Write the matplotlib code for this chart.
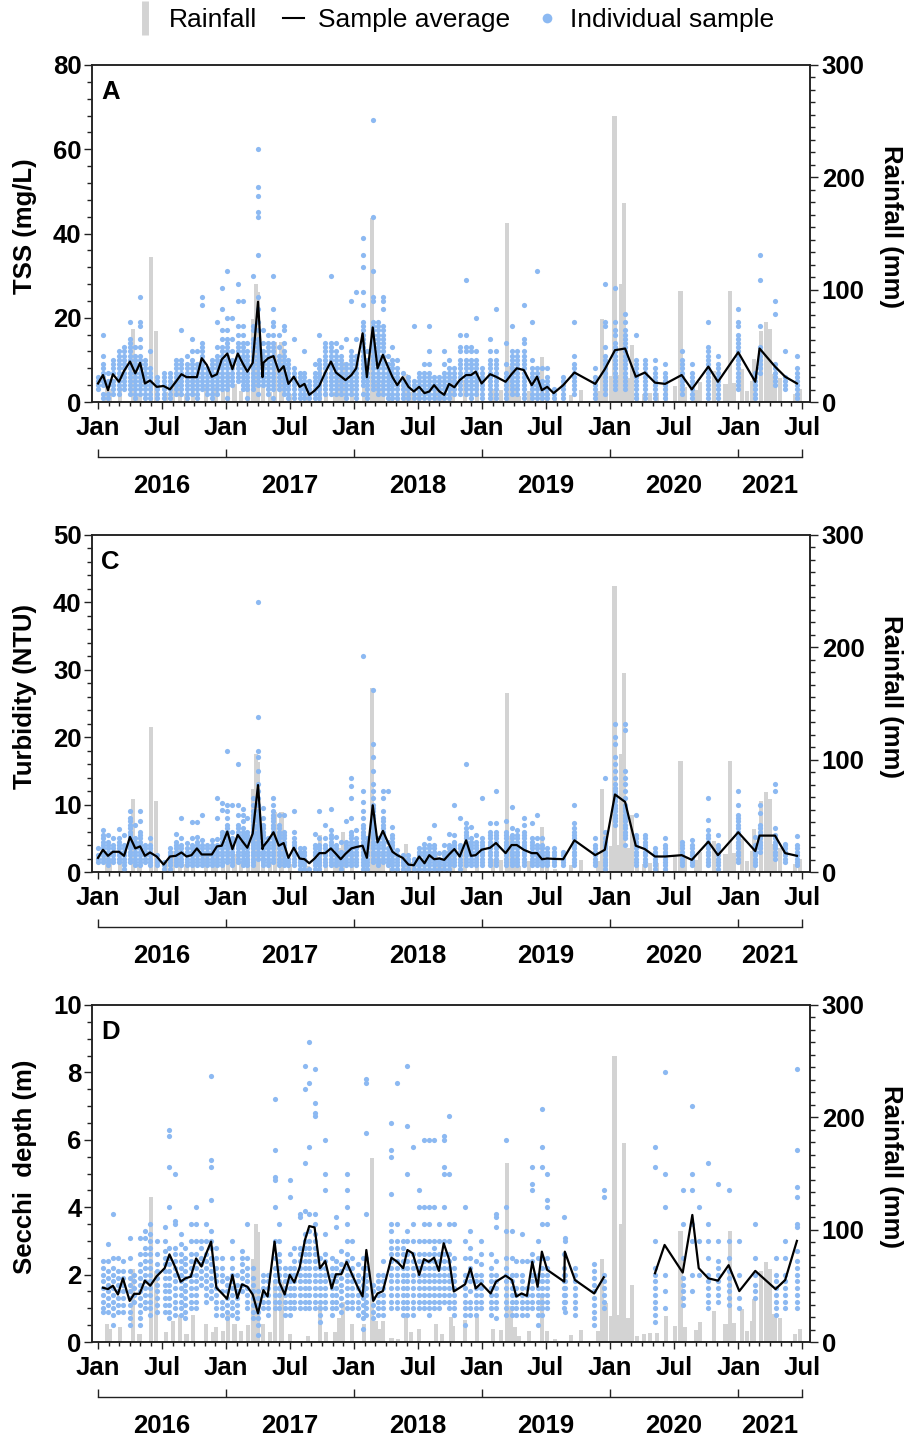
import numpy as np
import pandas as pd
import matplotlib
matplotlib.use("Agg")
import matplotlib.pyplot as plt
import matplotlib.dates as mdates
from matplotlib.ticker import MultipleLocator, AutoMinorLocator
from matplotlib.lines import Line2D

plt.rcParams['font.family'] = ['Liberation Sans', 'DejaVu Sans']
plt.rcParams['font.weight'] = 'bold'

# ---------------- data ----------------
# time of each observation as months since 1 Jan 2016
rain_month = [0.84, 1.1, 2.06, 3.28, 3.9, 4.97, 5.47, 6.4, 7.0, 7.66, 8.3, 8.93, 10.15, 10.78, 11.09,
              11.7, 12.18, 12.8, 13.4, 14.06, 14.5, 14.78, 15.0, 15.5, 16.1, 16.6, 17.2, 18.0, 19.7,
              20.8, 21.4, 22.2, 22.56, 22.96, 23.8, 24.9, 25.65, 26.05, 26.4, 26.7, 27.5, 28.1, 28.9,
              29.36, 30.05, 31.7, 32.24, 33.05, 33.3, 34.4, 35.5, 37.0, 37.74, 38.33, 38.7, 39.08,
              39.46, 40.4, 41.64, 42.05, 42.86, 44.3, 45.24, 46.9, 47.24, 47.6, 48.08, 48.4, 48.77,
              49.0, 49.27, 49.64, 50.08, 50.55, 51.17, 51.7, 52.4, 53.2, 54.1, 54.6, 55.04, 56.1,
              56.45, 57.7, 58.8, 59.2, 59.6, 60.35, 60.8, 61.26, 61.5, 62.1, 62.57, 63.0, 63.4, 63.9,
              65.3, 65.8]
rain_mm = [16, 12, 13, 65, 7, 129, 63, 9, 19, 24, 7, 24, 16, 9, 13,
           10, 27, 16, 10, 15, 74, 105, 98, 16, 9, 53, 53, 7, 5,
           33, 9, 9, 21, 36, 16, 16, 164, 19, 12, 19, 4, 3, 25,
           9, 12, 16, 7, 22, 14, 20, 22, 12, 11, 159, 32, 13,
           5, 10, 40, 10, 3, 6, 11, 10, 74, 35, 23, 255, 24,
           105, 177, 21, 51, 5, 7, 8, 8, 23, 14, 99, 13, 11,
           18, 28, 16, 99, 17, 29, 10, 19, 38, 63, 71, 65, 25, 21,
           7, 12]

# sampling times for TSS and turbidity
ac_month = [0.0, 0.47, 0.94, 1.4, 1.97, 2.45, 3.0, 3.5, 3.95, 4.4,
            4.88, 5.5, 6.15, 6.75, 7.3, 7.82, 8.3, 8.77, 9.27, 9.72,
            10.2, 10.67, 11.15, 11.6, 12.12, 12.6, 13.1, 13.56, 14.0, 14.5,
            15.0, 15.42, 15.5, 15.95, 16.45, 16.95, 17.4, 17.85, 18.35, 18.9,
            19.35, 19.8, 20.3, 20.75, 21.3, 21.83, 22.3, 22.75, 23.2, 23.75,
            24.2, 24.8, 25.2, 25.75, 26.2, 26.7, 27.15, 27.6, 28.05, 28.55,
            29.1, 29.6, 30.1, 30.6, 31.05, 31.5, 32.0, 32.45, 32.9, 33.4,
            33.9, 34.5, 34.96, 35.4, 35.95, 36.75, 37.3, 38.2, 38.76, 39.25,
            39.9, 40.65, 41.15, 41.6, 42.1, 42.7, 43.6, 44.65, 46.6, 47.5,
            48.45, 49.4, 50.4, 51.25, 52.2, 53.15, 54.7, 55.65, 57.2, 58.1,
            60.0, 61.6, 62.0, 63.45, 64.4, 65.5]

tss_avg = [4.4, 6.4, 2.8, 6.6, 4.8, 7.4, 9.6, 6.8, 9.3, 4.4,
           5.1, 3.6, 3.8, 3.0, 4.8, 6.6, 5.9, 5.9, 5.9, 10.4,
           8.8, 6.0, 6.6, 10.1, 11.5, 7.8, 11.5, 9.2, 7.2, 9.3,
           23.8, 5.9, 9.3, 10.4, 10.9, 7.2, 8.5, 4.3, 6.0, 3.6,
           4.3, 1.7, 2.7, 3.9, 7.0, 9.6, 7.0, 6.1, 5.2, 6.4,
           8.0, 16.3, 5.9, 17.7, 8.0, 11.2, 8.5, 5.9, 4.0, 5.9,
           3.6, 2.5, 3.6, 2.1, 2.5, 4.0, 2.5, 1.7, 4.3, 3.5,
           5.2, 6.4, 6.4, 7.2, 4.4, 6.6, 6.0, 4.8, 6.6, 8.0,
           7.6, 4.0, 6.0, 2.8, 3.6, 2.1, 4.0, 7.0, 4.3, 7.8,
           12.3, 12.7, 6.0, 7.0, 4.6, 4.3, 6.4, 3.0, 8.4, 4.8,
           11.8, 4.8, 12.7, 8.4, 6.0, 4.4]

tss_samples = [
    [3, 4, 5, 6], [1, 2, 4, 5, 6, 7, 8, 9, 11, 16], [1, 2, 4, 5, 7], [2, 3, 4, 5, 7, 8, 9, 10],
    [2, 3, 4, 5, 6, 7, 8, 9, 10, 11, 12], [3, 4, 5, 6, 7, 8, 9, 10, 11, 12, 13],
    [2, 3, 4, 5, 6, 7, 8, 9, 10, 11, 12, 13, 14, 15, 19], [1, 2, 3, 4, 5, 6, 7, 8, 9, 10, 11, 13],
    [2, 3, 4, 5, 6, 7, 8, 9, 10, 11, 13, 15, 18, 19, 25], [1, 2, 3, 4, 5, 6, 7, 8, 9, 10],
    # 11-20
    [1, 2, 3, 4, 5, 6, 7, 8, 12], [1, 2, 3, 4, 5, 6], [1, 2, 3, 4, 5, 6, 7], [1, 2, 3, 4, 5, 6, 7],
    [2, 3, 4, 5, 6, 7, 8, 9, 10], [2, 3, 4, 5, 6, 7, 8, 9, 10, 17], [1, 2, 3, 4, 5, 6, 7, 8, 9, 11],
    [2, 3, 4, 5, 6, 7, 8, 9, 10, 12, 15], [1, 2, 3, 4, 5, 6, 7, 8, 9, 12],
    [3, 4, 5, 6, 7, 8, 9, 10, 11, 12, 13, 14, 23, 25],
    # 21-30
    [2, 3, 4, 5, 6, 7, 8], [1, 2, 3, 4, 5, 6, 7, 8, 9, 10], [2, 3, 4, 5, 6, 7, 8, 9, 10, 11, 13, 19],
    [3, 4, 5, 6, 7, 8, 9, 10, 11, 12, 13, 15, 17, 22, 27],
    [1, 3, 4, 5, 6, 7, 8, 9, 10, 11, 12, 13, 14, 15, 17, 20, 31], [4, 5, 6, 7, 8, 9, 10, 12, 15, 20],
    [5, 6, 7, 8, 9, 10, 11, 12, 13, 14, 16, 18, 24, 28],
    [3, 4, 5, 6, 7, 8, 9, 10, 11, 12, 13, 14, 16, 18, 24], [1, 3, 4, 5, 6, 7, 8, 9, 10, 11, 12, 14],
    [3, 4, 5, 6, 7, 8, 9, 10, 11, 12, 13, 14, 15, 17, 18, 30],
    # 31-40
    [2, 4, 5, 6, 7, 8, 9, 10, 11, 12, 13, 14, 15, 17, 19, 22, 25, 35, 44, 45, 49, 51, 60],
    [4, 5, 6, 7, 8, 9, 10, 11, 12, 14, 17], [6, 8, 10], [2, 3, 4, 5, 6, 7, 8, 9, 10, 11, 12, 13, 14, 16],
    [1, 3, 4, 5, 6, 7, 8, 9, 10, 11, 12, 13, 14, 16, 18, 19, 22, 30], [3, 4, 5, 6, 7, 8, 9, 10, 11, 13, 16],
    [2, 3, 4, 5, 6, 7, 8, 9, 10, 11, 12, 14, 17, 18], [1, 2, 3, 4, 5, 6, 7, 8, 9, 10],
    [1, 2, 3, 4, 5, 6, 7, 8, 15], [1, 2, 3, 4, 5, 6, 7],
    # 41-50
    [1, 2, 3, 4, 5, 6, 7, 12], [1, 2, 3, 4, 5], [1, 2, 3, 4, 5, 6, 7, 9], [1, 2, 3, 4, 5, 6, 7, 8, 9, 10, 16],
    [2, 3, 4, 5, 6, 7, 8, 9, 10, 11, 12, 13, 14], [2, 3, 4, 5, 6, 7, 8, 9, 10, 11, 12, 13, 14, 30],
    [2, 3, 4, 5, 6, 7, 8, 9, 10, 11, 12, 14], [2, 3, 4, 5, 6, 7, 8, 9, 10, 11, 13],
    [1, 2, 3, 4, 5, 6, 7, 8, 9, 15], [2, 3, 4, 5, 6, 7, 8, 9, 10, 11, 12, 24],
    # 51-60
    [1, 2, 3, 4, 5, 6, 7, 8, 9, 10, 11, 15, 26],
    [2, 4, 5, 6, 7, 8, 9, 10, 11, 12, 13, 14, 15, 16, 17, 18, 19, 23, 26, 32, 35, 39],
    [1, 2, 3, 4, 5, 6, 7, 8, 9, 10, 12],
    [3, 4, 5, 6, 7, 8, 9, 10, 11, 12, 13, 14, 15, 16, 17, 18, 19, 24, 25, 31, 44, 67],
    [2, 3, 4, 5, 6, 7, 8, 9, 10, 11, 12, 13, 14, 15, 16, 17, 18, 19],
    [2, 3, 4, 5, 6, 7, 8, 9, 10, 11, 12, 13, 14, 15, 16, 17, 18, 22, 24, 25],
    [1, 2, 3, 4, 5, 6, 7, 8, 9, 11], [1, 2, 3, 4, 5, 6, 7, 8, 9, 10, 13], [1, 2, 3, 4, 5, 6, 7, 8, 10],
    [1, 2, 3, 4, 5, 7],
    # 61-70
    [1, 2, 3, 4, 5, 6], [1, 2, 3, 4, 5, 18], [1, 2, 3, 4, 5, 6, 7], [1, 2, 3, 4, 5, 6, 7, 9],
    [1, 2, 3, 4, 5, 6, 7, 9, 12, 18], [1, 2, 3, 4, 5, 6], [1, 2, 3, 4, 5, 6], [1, 2, 3, 4, 5, 6, 7, 9, 12],
    [1, 2, 3, 4, 5, 6, 7, 8, 10], [2, 3, 4, 5, 6, 7, 8],
    # 71-80
    [2, 3, 4, 5, 6, 7, 8, 9, 10, 12, 13, 16], [2, 3, 4, 5, 6, 7, 8, 9, 10, 12, 13, 16, 29],
    [1, 2, 3, 4, 5, 6, 7, 8, 9, 10, 12, 13], [2, 3, 4, 5, 6, 7, 8, 9, 10, 12, 20], [1, 2, 3, 4, 5, 6, 7, 8],
    [1, 2, 3, 4, 5, 6, 7, 8, 9, 10, 12, 15], [1, 2, 3, 4, 5, 6, 7, 8, 9, 10, 12, 22],
    [1, 2, 3, 4, 5, 6, 7, 9, 14], [2, 3, 4, 5, 6, 7, 8, 9, 10, 11, 12, 18], [2, 3, 4, 5, 6, 7, 8, 9, 10, 11, 12],
    # 81-90
    [1, 2, 3, 4, 5, 6, 7, 8, 9, 10, 11, 12, 14, 15, 23], [1, 2, 3, 4, 5, 6, 7, 8, 10, 19],
    [1, 2, 3, 4, 5, 6, 7, 8, 31], [1, 2, 3, 4, 5, 8], [1, 2, 3, 4, 5, 6, 8], [1, 2, 3], [1, 2, 3, 4, 5, 6],
    [2, 3, 4, 5, 6, 7, 8, 9, 11, 19], [1, 2, 3, 4, 5, 6, 8], [2, 3, 4, 5, 6, 7, 8, 9, 10, 11, 13, 18, 19, 28],
    # 91-100
    [3, 4, 5, 6, 7, 8, 9, 10, 11, 12, 13, 14, 16, 17, 19, 27],
    [3, 4, 5, 6, 7, 8, 9, 10, 11, 12, 13, 14, 15, 16, 17, 19, 21],
    [1, 2, 3, 4, 5, 6, 7, 8, 9, 10, 16], [1, 2, 3, 4, 5, 6, 7, 8, 9, 10], [1, 2, 3, 4, 5, 6, 7, 8, 10],
    [1, 2, 3, 4, 5, 6, 7, 9], [2, 3, 4, 5, 6, 7, 8, 9, 10, 12], [1, 2, 3, 4, 5, 6, 7, 9],
    [1, 2, 3, 4, 5, 6, 7, 8, 9, 10, 11, 12, 13, 19], [1, 2, 3, 4, 5, 6, 7, 8, 9, 11],
    # 101-106
    [3, 4, 5, 6, 7, 8, 9, 10, 11, 12, 13, 14, 15, 16, 18, 19, 22], [1, 2, 3, 4, 5, 6, 7],
    [7, 8, 9, 10, 11, 12, 13, 18, 29, 35], [4, 5, 6, 7, 8, 9, 21, 24], [3, 4, 5, 6, 12],
    [1, 2, 3, 4, 5, 6, 7, 8, 11],
]

turb_avg = [2.1, 3.3, 2.4, 3.0, 3.0, 2.4, 5.2, 3.5, 3.8, 2.4,
            2.9, 2.3, 1.1, 2.3, 2.4, 2.9, 2.3, 2.5, 3.5, 2.6,
            2.6, 2.6, 3.8, 3.9, 6.0, 3.4, 5.5, 4.5, 3.6, 5.7,
            12.9, 3.4, 3.8, 4.7, 5.9, 3.9, 4.3, 2.1, 3.6, 2.0,
            1.9, 1.3, 2.0, 2.8, 2.8, 3.5, 2.7, 1.9, 2.7, 3.5,
            3.7, 3.9, 2.1, 9.9, 4.4, 6.1, 4.5, 3.0, 2.5, 2.1,
            1.1, 1.0, 2.3, 1.3, 2.5, 1.9, 2.0, 1.8, 2.6, 3.4,
            2.3, 4.7, 2.4, 2.5, 3.3, 3.6, 4.3, 2.8, 4.0, 4.0,
            3.3, 2.8, 2.8, 1.9, 2.0, 1.95, 1.9, 4.7, 2.5, 3.3,
            11.5, 10.4, 3.9, 3.4, 2.3, 2.3, 2.5, 1.8, 4.5, 2.5,
            5.9, 3.1, 5.4, 5.4, 2.8, 2.4]

turb_samples = [
    [1.5, 2, 2.5, 3.5], [1.5, 2, 2.5, 3, 3.5, 4, 4.5, 5, 5.5, 6.2], [1, 1.5, 2, 2.5, 3, 3.5, 4, 4.5, 5.5],
    [1.5, 2, 2.5, 3, 3.5, 4, 5], [1.5, 2, 2.5, 3, 3.5, 4, 4.5, 5, 6.4], [0.5, 1, 1.5, 2, 2.5, 3, 3.5, 4, 5.5],
    [1.5, 2, 2.5, 3, 3.5, 4, 4.5, 5, 5.5, 6, 6.5, 7, 7.5, 8, 9], [1, 1.5, 2, 2.5, 3, 3.5, 4, 4.5, 5, 7],
    [1, 1.5, 2, 2.5, 3, 3.5, 4, 4.5, 5, 5.5, 6, 7.5, 9], [1.5, 2, 2.5, 3, 3.5, 4],
    # 11-20
    [1, 1.5, 2, 2.5, 3, 3.5, 4, 5], [1, 1.5, 2, 2.5], [0.5, 1, 1.5], [0.5, 1, 1.5, 2, 2.5, 3, 3.5],
    [1, 1.5, 2, 2.5, 3, 3.5, 4, 4.5, 5.6], [1, 1.5, 2, 2.5, 3, 3.5, 4, 5, 8], [1, 1.5, 2, 2.5, 3, 3.5, 4.3],
    [1, 1.5, 2, 2.5, 3, 3.5, 4, 5, 7.4], [1, 1.5, 2, 2.5, 3, 3.5, 4, 4.5, 5.2, 7.4],
    [1, 1.5, 2, 2.5, 3, 3.5, 4, 4.7, 8.5],
    # 21-30
    [1, 1.5, 2, 2.5, 3, 3.5, 4], [1, 1.5, 2, 2.5, 3, 3.5, 4, 4.7], [1, 1.5, 2, 2.5, 3, 3.5, 4, 4.9, 8, 11],
    [1, 1.5, 2, 2.5, 3, 3.5, 4, 4.5, 5, 5.5, 6, 9.2, 10.2],
    [1.5, 2, 2.5, 3, 3.5, 4, 4.5, 5, 5.5, 6, 6.5, 7, 8, 9, 10, 18], [1, 1.5, 2, 2.5, 3, 3.5, 4, 4.5, 5, 6, 10],
    [1.5, 2, 2.5, 3, 3.5, 4, 4.5, 5, 5.5, 6, 6.5, 7, 8.5, 10, 16],
    [1, 1.5, 2, 2.5, 3, 3.5, 4, 4.5, 5, 5.5, 6, 6.5, 7.5, 8.5, 9.4], [1, 1.5, 2, 2.5, 3, 3.5, 4, 4.5, 5, 5.5, 6, 8],
    [1, 1.5, 2, 2.5, 3, 3.5, 4, 4.5, 5, 5.5, 6, 6.5, 7, 7.5, 8, 8.5, 9, 10, 11],
    # 31-40
    [2, 2.5, 3, 3.5, 4, 4.5, 5, 5.5, 6, 6.5, 7, 7.5, 8, 8.5, 9, 10, 11, 12, 13, 15, 17, 18, 23, 40],
    [1, 1.5, 2, 2.5, 3, 3.5, 4, 4.5, 5, 5.5, 6, 6.5, 7, 8, 9.5], [2, 3, 4], [1, 1.5, 2, 2.5, 3, 3.5, 4, 4.5, 5],
    [1.5, 2, 2.5, 3, 3.5, 4, 4.5, 5, 5.5, 6, 6.5, 7, 7.5, 8, 8.5, 9, 10, 11],
    [1, 1.5, 2, 2.5, 3, 3.5, 4, 4.5, 5, 5.5, 6, 6.5, 7, 8.5], [1, 1.5, 2, 2.5, 3, 3.5, 4, 4.5, 5, 5.5, 6, 8.5],
    [1, 1.5, 2], [1, 1.5, 2, 2.5, 3, 3.5, 4, 4.5, 5, 6, 9], [0.5, 1, 1.5, 2, 2.5, 3, 3.5],
    # 41-50
    [0.5, 1, 1.5, 2, 2.5, 3, 3.5], [0.5], [0.5, 1, 1.5, 2, 2.5, 3, 3.5, 4, 5.7],
    [0.5, 1, 1.5, 2, 2.5, 3, 3.5, 4, 5, 9], [1, 1.5, 2, 2.5, 3, 3.5, 4, 5, 7],
    [1, 1.5, 2, 2.5, 3, 3.5, 4, 4.5, 5, 5.5, 6.2, 9.4], [1, 1.5, 2, 2.5, 3, 3.5, 4, 5.2],
    [0.5, 1, 1.5, 2, 2.5, 3, 4.5], [1, 1.5, 2, 2.5, 3, 3.5, 4, 4.5, 7.5],
    [1, 1.5, 2, 2.5, 3, 3.5, 4, 4.5, 5, 5.5, 6, 8, 11, 12.8, 14],
    # 51-60
    [1, 1.5, 2, 2.5, 3, 3.5, 4, 4.5, 5, 6.2],
    [0.5, 1, 1.5, 2, 2.5, 3, 3.5, 4, 4.5, 5, 5.5, 6, 6.5, 7, 8, 9, 10.4, 12, 32],
    [0.5, 1, 1.5, 2, 2.5, 3, 3.5, 4, 4.5, 5],
    [1.5, 2, 2.5, 3, 3.5, 4, 4.5, 5, 5.5, 6, 6.5, 7, 7.5, 8, 8.5, 9, 9.5, 10, 11, 12, 13, 15, 17, 19, 27],
    [1, 1.5, 2, 2.5, 3, 3.5, 4, 4.5, 5], [1.5, 2, 2.5, 3, 3.5, 4, 4.5, 5, 5.5, 6, 6.5, 7, 7.5, 8, 9, 11, 12],
    [1, 1.5, 2, 2.5, 3, 3.5, 4.5, 12], [0.5, 1, 1.5, 2, 2.5, 3, 3.5, 4, 4.5, 5, 5.5, 6.7],
    [0.5, 1, 1.5, 2, 2.5, 3.3], [0.5, 1, 1.5, 2, 2.5],
    # 61-70
    [0.5, 1, 1.5, 2, 2.5], [0.5, 1, 1.5, 2], [0.5, 1, 1.5, 2, 2.5, 3, 3.5], [0.5, 1, 1.5, 2, 2.5, 3, 3.5, 4.2],
    [0.5, 1, 1.5, 2, 2.5, 3, 3.5, 4, 5], [0.5, 1, 1.5, 2, 2.5, 3, 3.5, 4, 6.9], [0.5, 1, 1.5, 2, 2.8],
    [0.5, 1, 1.5, 2, 2.5, 3, 4], [0.5, 1, 1.5, 2, 2.5, 3, 3.5, 4, 5.7], [1, 1.5, 2, 2.5, 3, 3.5, 4, 4.5, 5.5, 10],
    # 71-80
    [0.5, 1, 1.5, 2, 2.5, 3, 3.5, 4, 8], [1, 1.5, 2, 2.5, 3, 3.5, 4, 4.5, 5, 5.5, 6, 6.5, 7.2, 16],
    [1, 1.5, 2, 2.5, 3, 3.5, 4, 4.5, 5, 6.7], [1, 1.5, 2, 2.5, 3, 3.5, 4, 4.5, 5.5],
    [1, 1.5, 2, 2.5, 3, 3.5, 4, 4.5, 5, 11], [1, 1.5, 2, 2.5, 3, 3.5, 4, 4.5, 5, 5.5, 6, 7.2],
    [1, 1.5, 2, 2.5, 3, 3.5, 4, 4.5, 5, 5.5, 6, 7.2, 12], [1, 1.5, 2, 2.5, 3, 3.5, 4, 4.5, 5, 5.5, 6, 7.5],
    [1, 1.5, 2, 2.5, 3, 3.5, 4, 4.5, 5, 5.5, 6.5, 9.7], [1, 1.5, 2, 2.5, 3, 3.5, 4, 4.5, 5, 5.5, 6.2],
    # 81-90
    [1, 1.5, 2, 2.5, 3, 3.5, 4, 4.5, 5, 5.5, 6, 7, 8], [1, 1.5, 2, 2.5, 3, 3.5, 4, 4.5, 5, 7.3],
    [1, 1.5, 2, 2.5, 3, 3.5, 4, 5, 8.5], [1, 1.5, 2, 2.5, 3, 3.5, 4, 5], [1, 1.5, 2, 2.5, 3, 3.5],
    [1, 1.5, 2, 2.5, 3, 3.5], [1, 1.5, 2, 2.5, 3], [1, 1.5, 2, 2.5, 3, 3.5, 4, 4.5, 5, 5.5, 6, 6.5, 7.2, 10],
    [1, 1.5, 2, 2.5, 3, 3.5, 4, 5], [0.5, 1, 1.5, 2, 2.5, 3, 3.5, 4, 4.5, 5, 6, 14],
    # 91-100
    [7, 7.5, 8, 8.5, 9, 9.5, 10, 10.5, 11, 11.5, 12, 12.5, 13, 14, 15, 16, 17, 19, 20, 22],
    [4, 5, 5.5, 6, 6.5, 7, 7.5, 8, 8.5, 9, 9.5, 10, 11, 12, 13, 14, 15, 21, 22],
    [1, 1.5, 2, 2.5, 3, 3.5, 4, 4.5, 5, 5.5, 8.4], [1, 1.5, 2, 2.5, 3, 3.5, 4, 4.5, 5, 5.5],
    [0.5, 1, 1.5, 2, 2.5, 3, 3.5], [0.5, 1, 1.5, 2, 2.5, 3, 3.5, 4, 5], [1, 1.5, 2, 2.5, 3, 3.5, 4, 4.5],
    [1, 1.5, 2, 2.5, 3, 3.5, 4, 4.7], [1, 1.5, 2, 2.5, 3, 3.5, 4, 4.5, 5, 5.5, 6.2, 7.7, 11],
    [0.5, 1, 1.5, 2, 2.5, 3, 3.5, 4, 5.5],
    # 101-106
    [1.5, 2, 2.5, 3, 3.5, 4, 4.5, 5, 5.5, 6, 6.5, 7, 7.5, 8, 8.5, 10, 12], [1, 1.5, 2, 2.5, 3, 3.5, 4, 5.2],
    [3, 3.5, 4, 4.5, 5, 5.5, 6, 6.5, 7, 8.7, 10], [2, 2.5, 3, 3.5, 4, 4.5, 5, 5.5, 6.5, 12, 13],
    [1.5, 2, 2.5, 3, 3.5, 4, 4.2], [1, 1.5, 2, 2.5, 3, 3.5, 4, 5.4],
]

# sampling times for Secchi depth (nan marks the break in the average line)
d_month = [0.47, 0.94, 1.4, 1.87, 2.34, 2.97, 3.4, 3.9, 4.4, 4.9,
           5.5, 6.25, 6.7, 7.25, 7.75, 8.2, 8.7, 9.2, 9.7, 10.15,
           10.6, 11.1, 11.6, 12.1, 12.6, 13.06, 13.5, 14.0, 14.5, 15.0,
           15.5, 15.9, 16.55, 17.0, 17.5, 17.97, 18.4, 18.9, 19.4, 19.8,
           20.3, 20.8, 21.3, 21.9, 22.3, 22.8, 23.3, 23.8, 24.4, 24.8,
           25.15, 25.8, 26.2, 26.7, 27.5, 28.05, 28.6, 29.0, 29.5, 30.1,
           30.55, 31.0, 31.5, 31.95, 32.4, 32.9, 33.35, 34.4, 34.9, 35.4,
           35.9, 36.8, 37.3, 38.2, 38.8, 39.2, 39.7, 40.2, 40.7, 41.2,
           41.6, 42.1, 43.7, 43.75, 44.7, 46.5, 47.4, 49.8, 52.2, 53.1,
           54.8, 55.7, 56.3, 57.2, 58.1, 59.1, 60.1, 61.6, 63.5, 64.4,
           65.5]
secchi_avg = [1.61, 1.57, 1.67, 1.41, 1.89, 1.22, 1.43, 1.43, 1.82, 1.67,
              1.95, 2.19, 2.60, 2.21, 1.79, 1.89, 1.94, 2.48, 2.24, 2.63,
              2.98, 1.61, 1.45, 1.28, 1.99, 1.30, 1.71, 1.64, 1.41, 0.85,
              1.54, 1.35, 2.98, 1.77, 1.41, 1.99, 1.77, 2.21, 3.03, 3.44,
              3.40, 2.19, 2.40, 1.59, 2.01, 2.01, 2.38, 2.01, 1.59, 1.35,
              2.73, 1.22, 1.44, 1.51, 2.50, 2.38, 2.19, 2.73, 2.63, 1.99,
              2.46, 2.38, 2.50, 2.11, 2.93, 2.46, 1.50, 1.71, 2.19, 1.59,
              1.74, 1.44, 1.79, 1.97, 1.84, 1.35, 1.44, 1.37, 2.38, 1.64,
              2.68, 2.14, 1.79, 2.68, 1.84, 1.44, 1.92, np.nan, 2.04, 2.88,
              2.06, 3.77, 2.19, 1.89, 1.82, 2.28, 1.51, 2.11, 1.57, 1.84,
              3.00]
secchi_samples = [
    [0.9, 1.0, 1.2, 1.4, 1.6, 1.8, 2.0, 2.2, 2.4], [0.9, 1.1, 1.3, 1.5, 1.7, 1.9, 2.1, 2.4, 2.9],
    [0.5, 0.8, 1.0, 1.2, 1.4, 1.6, 1.8, 2.0, 2.2, 2.5, 3.8], [0.9, 1.1, 1.3, 1.5, 1.7, 1.9, 2.1, 2.5],
    [0.9, 1.1, 1.3, 1.5, 1.7, 1.9, 2.1, 2.4], [0.5, 0.7, 0.9, 1.1, 1.3, 1.5, 1.7, 1.9, 2.1, 2.5, 3.1],
    [1.2, 1.4, 1.6, 1.8, 2.0], [0.5, 0.7, 0.9, 1.1, 1.3, 1.5, 1.7, 1.9, 2.1, 2.3, 2.6, 3.1],
    [1.0, 1.2, 1.4, 1.6, 1.8, 2.0, 2.2, 2.4, 2.6, 2.8, 3.1, 3.3],
    [0.8, 1.0, 1.2, 1.4, 1.6, 1.8, 2.0, 2.2, 2.4, 2.6, 2.8, 3.0, 3.2, 3.5],
    # 11-20
    [0.9, 1.1, 1.3, 1.5, 1.7, 1.9, 2.1, 2.3, 2.6, 3.0],
    [0.9, 1.1, 1.3, 1.5, 1.7, 1.9, 2.1, 2.3, 2.5, 2.7, 3.0, 3.4],
    [0.7, 0.9, 1.1, 1.3, 1.5, 1.7, 1.9, 2.1, 2.3, 2.5, 2.8, 4.0, 5.2, 6.1, 6.3],
    [0.8, 1.0, 1.2, 1.4, 1.6, 1.8, 2.0, 2.2, 2.4, 2.6, 2.8, 3.5, 3.6, 5.0],
    [0.8, 1.0, 1.2, 1.4, 1.6, 1.8, 2.0, 2.2, 2.4, 2.6, 2.9, 3.2],
    [0.7, 0.9, 1.1, 1.3, 1.5, 1.7, 1.9, 2.1, 2.3, 2.5, 2.8],
    [1.0, 1.2, 1.4, 1.6, 1.8, 2.0, 2.2, 2.4, 2.6, 3.0, 3.5],
    [1.0, 1.2, 1.4, 1.6, 1.8, 2.0, 2.2, 2.4, 2.6, 3.0, 3.5, 4.0],
    [1.7, 1.9, 2.1, 2.3, 2.5, 2.8, 3.0], [1.2, 1.4, 1.6, 1.8, 2.0, 2.2, 2.4, 2.6, 3.0, 3.5],
    # 21-30
    [1.3, 1.5, 1.7, 1.9, 2.1, 2.3, 2.5, 2.8, 3.0, 3.3, 4.2, 5.2, 5.4, 7.9],
    [0.8, 1.0, 1.2, 1.4, 1.6, 1.8, 2.0, 2.2, 2.5, 2.8], [0.8, 1.0, 1.2, 1.5, 1.8, 2.0, 2.2, 2.5],
    [0.7, 0.9, 1.1, 1.3, 1.5, 1.7, 1.9], [0.8, 1.0, 1.2, 1.4, 1.6, 1.8, 2.0, 2.2, 2.5, 3.0],
    [0.7, 0.9, 1.1, 1.3, 1.5, 1.7, 2.0], [1.5, 1.7, 1.9, 2.1, 2.3, 2.5, 2.7],
    [1.0, 1.2, 1.4, 1.6, 1.8, 2.0, 2.2, 2.5, 3.5], [0.7, 0.9, 1.1, 1.3, 1.5, 1.7, 1.9, 2.2],
    [0.2, 0.5, 0.7, 0.9, 1.1, 1.3, 1.5],
    # 31-40
    [1.0, 1.2, 1.4, 1.6, 1.8, 2.0], [0.8, 1.0, 1.2, 1.4, 1.6, 1.8, 2.0],
    [1.0, 1.2, 1.4, 1.6, 1.8, 2.0, 2.2, 2.5, 3.0, 4.0, 4.8, 4.9, 5.7, 7.2],
    [1.0, 1.2, 1.4, 1.6, 1.8, 2.0, 2.2, 2.4, 2.6, 3.0, 3.5], [0.8, 1.0, 1.2, 1.4, 1.6, 1.8, 2.0, 2.2],
    [0.8, 1.0, 1.2, 1.4, 1.6, 1.8, 2.0, 2.2, 2.6, 4.3, 4.8], [1.0, 1.2, 1.4, 1.6, 1.8, 2.0, 2.2, 2.4, 2.8],
    [1.0, 1.2, 1.4, 1.6, 1.8, 2.0, 2.2, 2.4, 2.6, 2.8, 3.7, 3.8],
    [1.0, 1.2, 1.4, 1.6, 1.8, 2.0, 2.2, 2.4, 2.6, 2.8, 3.0, 3.2, 3.9, 5.3, 7.5, 8.2],
    [1.0, 1.2, 1.4, 1.6, 1.8, 2.0, 2.2, 2.4, 2.6, 2.8, 3.0, 3.3, 3.8, 5.8, 7.7, 8.9],
    # 41-50
    [1.0, 1.2, 1.4, 1.6, 1.8, 2.0, 2.2, 2.4, 2.6, 2.8, 3.0, 3.2, 3.5, 3.8, 6.7, 6.8, 7.1, 8.1],
    [0.6, 0.8, 1.0, 1.2, 1.4, 1.6, 1.8, 2.0, 2.2, 2.5],
    [1.0, 1.2, 1.4, 1.6, 1.8, 2.0, 2.2, 2.4, 2.6, 3.2, 4.5, 5.0, 6.0],
    [0.8, 1.0, 1.2, 1.4, 1.6, 1.8, 2.0, 2.2, 2.5], [1.0, 1.2, 1.4, 1.6, 1.8, 2.0, 2.2, 2.4, 3.4, 3.7],
    [0.9, 1.1, 1.3, 1.5, 1.7, 1.9, 2.1, 2.3, 2.7],
    [1.0, 1.2, 1.4, 1.6, 1.8, 2.0, 2.2, 2.4, 2.6, 3.0, 3.5, 4.0, 4.5, 5.0],
    [1.0, 1.2, 1.4, 1.6, 1.8, 2.0, 2.2, 2.5, 3.0], [0.8, 1.0, 1.2, 1.4, 1.6, 1.8, 2.0, 2.3],
    [0.4, 0.7, 0.9, 1.1, 1.3, 1.5, 1.7, 1.9, 2.2, 2.5],
    # 51-60
    [0.8, 1.0, 1.2, 1.4, 1.6, 1.8, 2.0, 2.2, 2.5, 3.8, 6.2, 7.7, 7.8], [0.7, 0.9, 1.1, 1.3, 1.5, 1.7],
    [0.8, 1.0, 1.2, 1.4, 1.6, 1.8, 2.0], [0.8, 1.0, 1.2, 1.4, 1.6, 1.8, 2.0, 2.4],
    [1.0, 1.2, 1.4, 1.6, 1.8, 2.0, 2.2, 2.4, 2.6, 2.8, 3.0, 3.3, 3.5, 4.4, 5.5, 5.7, 6.5],
    [1.0, 1.2, 1.4, 1.6, 1.8, 2.0, 2.2, 2.4, 2.6, 2.8, 3.0, 3.5, 7.7],
    [0.8, 1.0, 1.2, 1.4, 1.6, 1.8, 2.0, 2.2, 2.4, 2.6, 2.8, 3.0],
    [0.8, 1.0, 1.2, 1.4, 1.6, 1.8, 2.0, 2.2, 2.4, 2.6, 3.0, 3.3, 5.0, 6.4, 8.2],
    [0.8, 1.0, 1.2, 1.4, 1.6, 1.8, 2.0, 2.2, 2.4, 2.6, 3.0, 3.5, 5.8],
    [1.0, 1.2, 1.4, 1.6, 1.8, 2.0, 2.2, 2.4, 2.6, 3.0, 4.0, 4.5],
    # 61-70
    [1.0, 1.2, 1.4, 1.6, 1.8, 2.0, 2.2, 2.4, 2.6, 3.0, 3.5, 4.0, 6.0],
    [0.8, 1.0, 1.2, 1.4, 1.6, 1.8, 2.0, 2.2, 2.4, 2.6, 3.0, 3.5, 4.0, 6.0],
    [1.0, 1.2, 1.4, 1.6, 1.8, 2.0, 2.2, 2.4, 2.6, 2.8, 3.0, 4.0, 6.0],
    [1.0, 1.2, 1.4, 1.6, 1.8, 2.0, 2.2, 2.4, 2.6, 3.0, 3.5],
    [1.2, 1.4, 1.6, 1.8, 2.0, 2.2, 2.4, 2.6, 3.0, 4.0, 5.0, 5.2, 6.0, 6.1],
    [1.0, 1.2, 1.4, 1.6, 1.8, 2.0, 2.2, 2.4, 2.6, 3.0, 3.5, 5.0, 6.7],
    [0.8, 1.0, 1.2, 1.4, 1.6, 1.8, 2.0, 2.2, 2.5, 3.5],
    [0.5, 0.8, 1.0, 1.2, 1.4, 1.6, 1.8, 2.0, 2.5, 3.0, 4.0],
    [0.8, 1.0, 1.2, 1.5, 1.8, 2.0, 2.2, 2.5, 2.8, 3.3], [0.8, 1.0, 1.2, 1.4, 1.6, 1.8, 2.0, 2.4],
    # 71-80
    [1.0, 1.2, 1.4, 1.6, 1.8, 2.0, 2.3, 2.6, 3.0], [0.8, 1.0, 1.2, 1.4, 1.6, 1.8, 2.0, 2.2, 2.6],
    [0.7, 1.0, 1.2, 1.4, 1.6, 1.8, 2.0, 2.4, 3.4, 3.7, 3.8],
    [0.8, 1.0, 1.2, 1.4, 1.6, 1.8, 2.0, 2.2, 2.5, 3.3, 4.0, 6.0],
    [0.8, 1.0, 1.2, 1.4, 1.6, 1.8, 2.0, 2.5, 3.3], [0.8, 1.0, 1.2, 1.4, 1.6, 2.0, 2.4],
    [0.8, 1.0, 1.2, 1.4, 1.6, 1.8, 2.0, 2.4, 3.2], [0.8, 1.0, 1.2, 1.4, 1.6, 2.4],
    [1.0, 1.2, 1.4, 1.6, 1.8, 2.0, 2.4, 2.6, 4.5, 4.7, 5.2],
    [0.5, 0.8, 1.0, 1.2, 1.4, 1.6, 1.8, 2.0, 2.5, 3.0],
    # 81-90
    [0.8, 1.0, 1.2, 1.4, 1.6, 1.8, 2.0, 2.2, 2.5, 3.5, 5.2, 5.8, 6.9],
    [1.0, 1.2, 1.4, 1.6, 1.8, 2.0, 2.2, 2.5, 3.5, 4.0, 4.2, 5.0],
    [1.0, 1.2, 1.4, 1.6, 1.8, 2.0, 2.2, 2.6, 3.7], [0.9, 1.2, 1.4, 1.6, 1.8, 2.0, 3.0, 3.1],
    [0.8, 1.0, 1.2, 1.4, 1.6, 1.8, 2.0, 2.2], [0.5, 0.7, 0.9, 1.1, 1.3, 1.5, 1.7, 1.9, 2.1, 2.3],
    [1.0, 1.2, 1.4, 1.6, 1.8, 2.0, 4.3, 4.5], [],
    [0.6, 0.8, 1.0, 1.2, 1.4, 1.6, 1.8, 2.0, 2.2, 3.0, 5.2, 5.8], [1.0, 1.5, 2.0, 4.0, 5.0, 8.0],
    # 91-101
    [1.1, 1.3, 1.5, 1.7, 1.9, 2.5, 3.5, 4.5], [1.5, 2.0, 3.0, 3.5, 4.5, 5.0, 7.0], [2.0, 3.0, 4.0],
    [1.0, 1.2, 1.4, 1.6, 1.8, 2.0, 2.5, 3.0, 3.5, 5.3], [1.2, 1.4, 1.6, 1.8, 2.0, 2.2, 2.4, 3.0, 4.7],
    [1.1, 1.3, 1.5, 1.7, 1.9, 2.1, 2.5, 3.0, 4.5], [1.0, 1.3, 2.0, 3.0], [1.3, 1.5, 1.7, 2.0, 2.5, 3.5],
    [0.8, 1.0, 1.2, 1.4, 1.6, 1.8, 2.0, 2.5], [1.0, 1.2, 1.4, 1.6, 1.8, 2.0, 2.5, 3.0],
    [1.0, 1.2, 1.4, 1.6, 1.8, 2.0, 2.2, 2.4, 2.7, 3.4, 3.5, 4.3, 4.6, 5.7, 8.1],
]

year_labels = ['2016', '2017', '2018', '2019', '2020', '2021']

assert len(rain_month) == len(rain_mm)
assert len(ac_month) == len(tss_avg) == len(tss_samples) == len(turb_avg) == len(turb_samples)
assert len(d_month) == len(secchi_avg) == len(secchi_samples)

# ---------------- helpers ----------------
BASE = pd.Timestamp('2016-01-01')


def to_num(months):
    d = BASE + pd.to_timedelta(np.asarray(months, float) * 30.4375, unit='D')
    return mdates.date2num(d)


BAR_C = '#d3d3d3'
DOT_C = '#8cb9f2'
SPINE_C = '#222222'
FS = 18.5

fig = plt.figure(figsize=(9.09, 14.38), dpi=100)
L, W, H = 92 / 909, 718 / 909, 337 / 1438
tops_px = [65, 535, 1005]

panels = [
    ('A', 'TSS (mg/L)', 80, 20, 5, ac_month, tss_avg, tss_samples),
    ('C', 'Turbidity (NTU)', 50, 10, 5, ac_month, turb_avg, turb_samples),
    ('D', 'Secchi  depth (m)', 10, 2, 4, d_month, secchi_avg, secchi_samples),
]

rain_x = to_num(rain_month)
x_lo = mdates.date2num(pd.Timestamp('2015-12-15'))
x_hi = mdates.date2num(pd.Timestamp('2021-07-24'))
year_ticks = mdates.date2num(pd.to_datetime(['2016-01-01', '2017-01-01', '2018-01-01', '2019-01-01',
                                             '2020-01-01', '2021-01-01', '2021-07-01']))
year_mid = mdates.date2num(pd.to_datetime(['2016-07-01', '2017-07-01', '2018-07-01', '2019-07-01',
                                           '2020-07-01', '2021-04-01']))

for (letter, ylab, ymax, ystep, nminor, months, avg, samples), top in zip(panels, tops_px):
    bottom = 1 - (top + 337) / 1438
    ax = fig.add_axes([L, bottom, W, H])
    axr = ax.twinx()
    ax.set_zorder(axr.get_zorder() + 1)
    ax.patch.set_visible(False)

    axr.bar(rain_x, rain_mm, width=12, color=BAR_C, linewidth=0)
    axr.set_ylim(0, 300)
    axr.yaxis.set_major_locator(MultipleLocator(100))
    axr.yaxis.set_minor_locator(AutoMinorLocator(9))

    xs = to_num(months)
    px, py = [], []
    for x, s in zip(xs, samples):
        px.extend([x] * len(s))
        py.extend(s)
    ax.scatter(px, py, s=14, color=DOT_C, linewidths=0, zorder=2, clip_on=False)
    ax.plot(xs, avg, color='black', lw=1.6, zorder=3)

    ax.set_xlim(x_lo, x_hi)
    ax.set_ylim(0, ymax)
    ax.yaxis.set_major_locator(MultipleLocator(ystep))
    ax.yaxis.set_minor_locator(AutoMinorLocator(nminor))
    ax.xaxis.set_major_locator(mdates.MonthLocator(bymonth=[1, 7]))
    ax.xaxis.set_major_formatter(mdates.DateFormatter('%b'))
    ax.xaxis.set_minor_locator(mdates.MonthLocator())

    for a in (ax, axr):
        for sp in a.spines.values():
            sp.set_color(SPINE_C)
            sp.set_linewidth(1.1)
    ax.tick_params(axis='x', which='major', length=5, width=1.0, pad=5, labelsize=FS, colors=SPINE_C,
                   labelcolor='black')
    ax.tick_params(axis='x', which='minor', length=3, width=1.0, colors=SPINE_C)
    ax.tick_params(axis='y', which='major', length=5.5, width=1.0, pad=2, labelsize=FS, colors=SPINE_C,
                   labelcolor='black')
    ax.tick_params(axis='y', which='minor', length=3.3, width=1.0, colors=SPINE_C)
    axr.tick_params(axis='y', which='major', length=5.5, width=1.0, pad=3, labelsize=FS, colors=SPINE_C,
                    labelcolor='black')
    axr.tick_params(axis='y', which='minor', length=3.5, width=1.0, colors=SPINE_C)

    ax.text(0.026, 0.92, letter, transform=ax.transAxes, ha='center', va='center',
            fontsize=FS, fontweight='bold')

    # year axis below
    sec = ax.secondary_xaxis(-55 / 337)
    sec.set_xticks(year_ticks)
    sec.set_xticklabels([''] * len(year_ticks))
    sec.set_xticks(year_mid, minor=True)
    sec.set_xticklabels(year_labels, minor=True, fontsize=FS, fontweight='bold')
    sec.tick_params(which='major', direction='in', length=6, width=1.0, colors=SPINE_C)
    sec.tick_params(which='minor', length=0, pad=12)
    sec.spines['bottom'].set_bounds(year_ticks[0], year_ticks[-1])
    sec.spines['bottom'].set_color(SPINE_C)
    sec.spines['bottom'].set_linewidth(1.0)

    yc = 1 - (top + 168.5 - 7) / 1438
    fig.text(25 / 909, yc, ylab, rotation=90, ha='center', va='center', fontsize=FS, fontweight='bold')
    fig.text(891 / 909, yc, 'Rainfall (mm)', rotation=270, ha='center', va='center', fontsize=FS,
             fontweight='bold')

handles = [
    Line2D([], [], color=BAR_C, marker='|', linestyle='None', markersize=24, markeredgewidth=5),
    Line2D([], [], color='black', lw=1.5),
    Line2D([], [], color=DOT_C, marker='o', linestyle='None', markersize=7, markeredgewidth=0),
]
fig.legend(handles, ['Rainfall', 'Sample average', 'Individual sample'], loc='center',
           bbox_to_anchor=(0.5, 0.986), ncol=3, frameon=False,
           prop={'size': 19, 'weight': 'normal'}, handlelength=0.8, handletextpad=0.5,
           columnspacing=1.0)

fig.savefig('out.png', dpi=100, facecolor='white')
